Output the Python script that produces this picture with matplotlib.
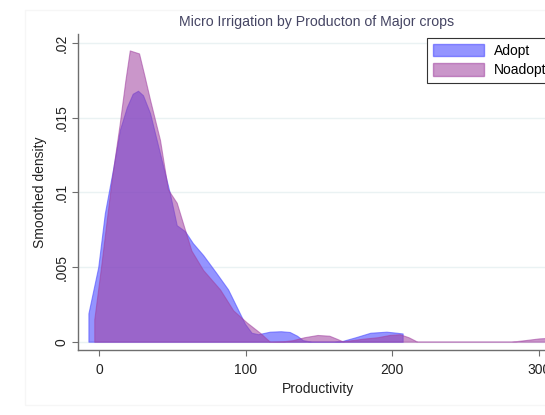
import matplotlib
matplotlib.use("Agg")
import matplotlib.pyplot as plt
from matplotlib.patches import Patch, Rectangle

plt.rcParams['font.family'] = ['Liberation Sans', 'DejaVu Sans']

# --- kernel density estimates ---
adopt_x = [-7.2, -7.2, -0.5, 4, 9.5, 14.3, 19, 23, 26.6, 30, 34.8, 41.6, 48.4, 53,
           58.6, 64, 71, 80, 88, 94, 99.5, 104, 108.5, 116.5, 124, 130, 135, 139,
           145, 160, 166, 175, 185, 196, 203, 207, 207]
adopt_y = [0, 0.0019, 0.005, 0.0086, 0.0115, 0.0142, 0.0157, 0.0166, 0.0168, 0.0165,
           0.0153, 0.0126, 0.0099, 0.0078, 0.0074, 0.0066, 0.0058, 0.0046, 0.0035,
           0.0023, 0.0012, 0.0006, 0.0005, 0.00067, 0.0007, 0.00065, 0.0004, 0.0001,
           0.0, 0.0, 0.00005, 0.0003, 0.0006, 0.00067, 0.0006, 0.00055, 0]

noadopt_x = [-3.2, -3.2, 1.4, 8.6, 14, 18, 21, 27.3, 31, 34.8, 41.6, 47, 53, 58.6,
             63, 71, 82.5, 91.5, 100.6, 109.7, 116.5, 125, 132, 140, 149, 157, 162,
             166, 172, 180, 190, 198, 205, 211, 217, 250, 281, 290, 300, 315]
noadopt_y = [0, 0.0015, 0.005, 0.0108, 0.0145, 0.0175, 0.0195, 0.0193, 0.0178, 0.0162,
             0.0135, 0.0102, 0.0093, 0.0075, 0.0061, 0.0048, 0.0035, 0.0021, 0.0013,
             0.0006, 0.0, 0.00002, 0.0001, 0.0003, 0.00045, 0.0004, 0.0002, 0.00003,
             0.0001, 0.0002, 0.0003, 0.00045, 0.0005, 0.0003, 0.0, 0.0, 0.0, 0.0001,
             0.00022, 0.0003]

x_ticks = [0, 100, 200, 300]
y_ticks = [0, 0.005, 0.01, 0.015, 0.02]
y_tick_labels = ["0", ".005", ".01", ".015", ".02"]

blue = "#4d4dff"
purple = "#a040a0"
fs = 10

fig = plt.figure(figsize=(5.45, 4.15), dpi=100)
# faint outer graph region like Stata
fig.patches.append(Rectangle((25 / 545, 10 / 415), 0.99, 395 / 415, transform=fig.transFigure,
                             facecolor="none", edgecolor="#f6f6f6", lw=1))

ax = fig.add_axes([78 / 545, 65 / 415, 480 / 545, 316 / 415])
ax.fill_between(adopt_x, adopt_y, color=blue, alpha=0.6, lw=0.8, edgecolor=blue, zorder=2)
ax.fill_between(noadopt_x, noadopt_y, color=purple, alpha=0.55, lw=0.8, edgecolor=purple, zorder=3)

ax.set_xlim(-14.3, 312.9)
ax.set_ylim(-0.000556, 0.0206)
ax.set_xticks(x_ticks)
ax.set_yticks(y_ticks)
ax.set_yticklabels(y_tick_labels, rotation=90, va="center")
ax.grid(True, axis="y", color="#eaf2f3", lw=1)
ax.set_axisbelow(True)

for side in ["top", "right"]:
    ax.spines[side].set_visible(False)
for side in ["left", "bottom"]:
    ax.spines[side].set_color("#6e6e6e")
    ax.spines[side].set_linewidth(1.0)
ax.tick_params(axis="both", colors="#6e6e6e", labelcolor="#222222", labelsize=fs, length=4)
ax.tick_params(axis="x", pad=5)
ax.tick_params(axis="y", pad=3)

ax.set_xlabel("Productivity", fontsize=fs, color="#222222")
ax.set_ylabel("Smoothed density", fontsize=fs, color="#222222")
ax.xaxis.set_label_coords(0.5, -0.1)
ax.yaxis.set_label_coords(-0.065, 0.5)

fig.text(317 / 545, 1 - 22 / 415, "Micro Irrigation by Producton of Major crops",
         ha="center", va="center", fontsize=10.2, color="#454563")

handles = [Patch(facecolor=blue, alpha=0.6, edgecolor=blue, label="Adopt"),
           Patch(facecolor=purple, alpha=0.55, edgecolor=purple, label="Noadopt")]
leg = ax.legend(handles=handles, loc="upper left", bbox_to_anchor=(427 / 545, 1 - 38 / 415),
                bbox_transform=fig.transFigure, borderaxespad=0, fancybox=False,
                framealpha=1, edgecolor="#333333", fontsize=fs, handlelength=3.7,
                handleheight=1.0, handletextpad=0.7, borderpad=0.4, labelspacing=0.42)
leg.get_frame().set_linewidth(0.8)

fig.savefig("out.png", dpi=100)
